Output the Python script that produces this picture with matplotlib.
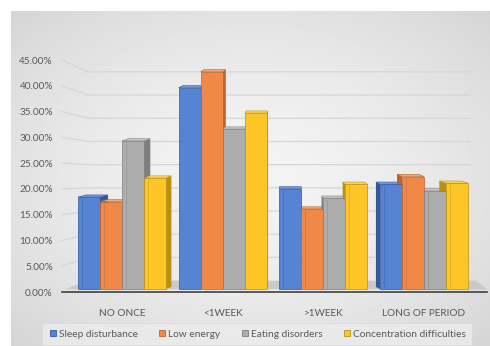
import matplotlib.pyplot as plt
import numpy as np
from matplotlib.patches import Polygon, Rectangle
from matplotlib.lines import Line2D

categories = ["NO ONCE", "<1WEEK", ">1WEEK", "LONG OF PERIOD"]
series = ["Sleep disturbance", "Low energy", "Eating disorders", "Concentration difficulties"]
sleep = [18.4, 39.6, 20.0, 20.9]
energy = [17.5, 42.7, 16.1, 22.4]
eating = [29.3, 31.6, 18.2, 19.6]
concentration = [22.1, 34.7, 20.9, 21.1]
yticks = [0, 5, 10, 15, 20, 25, 30, 35, 40, 45]

values = [sleep, energy, eating, concentration]
colors = ["#5584D4", "#F08848", "#ADADAD", "#FDC525"]
sides = ["#34589A", "#B8642E", "#7E7E7E", "#B99112"]
tops = ["#7398DB", "#F5A675", "#C8C8C8", "#FFD657"]

plt.rcParams['font.family'] = ['Lato', 'DejaVu Sans']

W, H = 490, 346
fig = plt.figure(figsize=(W / 100, H / 100), dpi=100)
fig.patch.set_facecolor("white")

# gradient background of the chart area
bg = fig.add_axes([11 / W, 0, 1 - 11 / W, 1 - 11 / H])
gx, gy = np.meshgrid(np.linspace(-1, 1, 300), np.linspace(-1, 1, 200))
r = np.sqrt(gx ** 2 + gy ** 2) / np.sqrt(2)
bg.imshow(0.955 - 0.12 * r ** 1.6, cmap="gray", vmin=0, vmax=1, aspect="auto",
          extent=[0, 1, 0, 1])
bg.set_axis_off()

x0, x1 = 62, 487
y_top, y_bot = 60, 292
ax = fig.add_axes([x0 / W, 1 - y_bot / H, (x1 - x0) / W, (y_bot - y_top) / H])
ax.patch.set_alpha(0)
xl, xr = -0.596, 3.626
ax.set_xlim(xl, xr)
ax.set_ylim(0, 45)
px = (xr - xl) / (x1 - x0)
py = 45 / (y_bot - y_top)

# back wall gridlines with slanted lead-in
back = lambda v: 0.9 * v + 2.2
gx0 = xl + 26 * px
gx1 = 3 + 46 * px
for t in yticks[1:]:
    ax.plot([xl, gx0, gx1], [t, back(t), back(t)], color="#d6d6d6", lw=0.9, zorder=1,
            clip_on=False)

# floor
base = 0.55
ax.add_patch(Polygon([[xl + 3 * px, base], [xr, base], [gx1 + 6 * px, back(0)],
                      [gx0, back(0)]], closed=True, facecolor="#c9c9c9",
                     edgecolor="none", zorder=1.5))
ax.plot([xl, xr], [0, 0], color="#404040", lw=1.2, zorder=5, clip_on=False)

w = 22 * px
x = np.arange(len(categories))
vp = 290  # vanishing x in pixels
for i in range(len(series)):
    pos = x + (i - 1.5) * w
    for j, (p, v) in enumerate(zip(pos, values[i])):
        xc_pix = x0 + (p - xl) / px
        dx = 0.04 * (vp - xc_pix) * px
        dy = 2.2 * py
        left, right = p - w / 2, p + w / 2
        if dx > 0:
            side = [[right, base], [right + dx, base + dy], [right + dx, v + dy], [right, v]]
        else:
            side = [[left, base], [left + dx, base + dy], [left + dx, v + dy], [left, v]]
        ax.add_patch(Polygon(side, closed=True, facecolor=sides[i], edgecolor="none",
                             zorder=2))
        top = [[left, v], [right, v], [right + dx, v + dy], [left + dx, v + dy]]
        ax.add_patch(Polygon(top, closed=True, facecolor=tops[i], edgecolor=sides[i],
                             lw=0.4, zorder=2))
    ax.bar(pos, np.array(values[i]) - base, bottom=base, width=w, color=colors[i],
           edgecolor=sides[i], linewidth=0.5, zorder=3)
    # inner bevel line
    for p, v in zip(pos, values[i]):
        ax.add_patch(Rectangle((p - w / 2 + 4 * px, base), 0.8 * px, v - base - 1.5 * py,
                               facecolor=sides[i], edgecolor="none", alpha=0.35, zorder=3.5))

ax.set_yticks(yticks)
ax.set_yticklabels([f"{t:.2f}%" for t in yticks])
ax.set_xticks(x)
ax.set_xticklabels(categories)
ax.tick_params(axis="y", length=0, pad=6.5, labelsize=7.2, labelcolor="#595959")
ax.tick_params(axis="x", length=0, pad=12, labelsize=7.2, labelcolor="#595959")
for s in ax.spines.values():
    s.set_visible(False)

handles = [Line2D([], [], marker="s", linestyle="none", markersize=4.5,
                  markerfacecolor=c, markeredgecolor=e, markeredgewidth=0.6)
           for c, e in zip(colors, sides)]
leg = fig.legend(handles, series, loc="center", bbox_to_anchor=(257 / W, 1 - 334 / H),
                 ncol=4, fontsize=7.3, frameon=True, fancybox=False, handletextpad=0.2,
                 columnspacing=2.0, borderpad=0.6, handlelength=0.8, borderaxespad=0)
leg.get_frame().set_facecolor("#ececec")
leg.get_frame().set_edgecolor("#d9d9d9")
leg.get_frame().set_linewidth(0.6)
for t in leg.get_texts():
    t.set_color("#595959")

fig.savefig("out.png", dpi=100)
